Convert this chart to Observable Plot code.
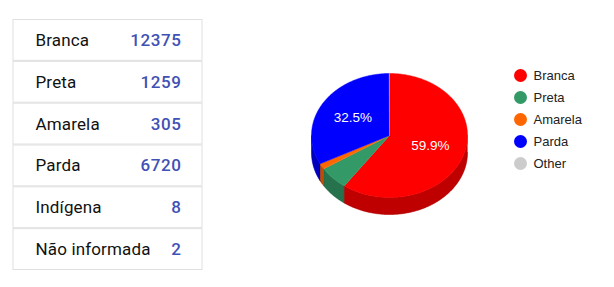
<!DOCTYPE html>
<html><head><meta charset="utf-8">
<script src="https://cdn.jsdelivr.net/npm/d3@7"></script>
<script src="https://cdn.jsdelivr.net/npm/@observablehq/plot@0.6"></script>
<style>
body{margin:0;background:#fff;}
#wrap{position:relative;width:614px;height:287px;overflow:hidden;}
#wrap svg{position:absolute;top:0;}
.vals text{letter-spacing:0.6px;}
.labs text{letter-spacing:0.15px;}
</style></head><body><div id="wrap"></div>
<script>
const categories = ["Branca","Preta","Amarela","Parda","Indígena","Não informada"];
const counts = [12375,1259,305,6720,8,2];
const pieLabels = ["Branca","Preta","Amarela","Parda","Other"];
const pieValues = [12375,1259,305,6720,10];
const pieColors = ["#ff0000","#339966","#ff6600","#0000ff","#cccccc"];

const wrap = document.getElementById("wrap");

// ---- Table ----
const rows = categories.map((c,i)=>({cat:c, n:counts[i]}));
const table = Plot.plot({
  width:214, height:287, margin:0,
  style:{fontFamily:"Roboto, sans-serif", background:"transparent"},
  x:{domain:[0,1], range:[13,202], axis:null},
  y:{type:"band", domain:categories, range:[19,270], padding:0, round:false, axis:null},
  marks:[
    Plot.barX(rows,{x1:0,x2:1,y:"cat",fill:"white",stroke:"#e0e0e0",strokeWidth:1,insetTop:0.5,insetBottom:0.5}),
    Plot.text(rows,{x:0,y:"cat",text:"cat",textAnchor:"start",dx:22,fontSize:17,fill:"#111111",className:"labs"}),
    Plot.text(rows,{x:1,y:"cat",text:d=>String(d.n),textAnchor:"end",dx:-21,fontSize:17,fontWeight:500,fill:"#3f51b5",className:"vals"})
  ]
});
table.style.left="0px";
wrap.appendChild(table);

// ---- 3D pie ----
const total = d3.sum(pieValues);
const T = 17/62;
const topPts = [], sidePts = [], labelData = [];
let acc = 0;
pieValues.forEach((v,i)=>{
  const a0 = acc/total*2*Math.PI;
  acc += v;
  const a1 = acc/total*2*Math.PI;
  const key = pieLabels[i];
  const n = Math.max(2, Math.ceil((a1-a0)/0.01));
  topPts.push({id:key, key, x:0, y:0});
  for(let k=0;k<=n;k++){
    const a = a0+(a1-a0)*k/n;
    topPts.push({id:key, key, x:Math.sin(a), y:Math.cos(a)});
  }
  const s0 = Math.max(a0, Math.PI/2), s1 = Math.min(a1, 3*Math.PI/2);
  if (s1 > s0){
    const m = Math.max(2, Math.ceil((s1-s0)/0.01));
    const arc = [];
    for(let k=0;k<=m;k++){ const a = s0+(s1-s0)*k/m; arc.push([Math.sin(a),Math.cos(a)]); }
    arc.forEach(([x,y])=>sidePts.push({id:key,key,x,y}));
    arc.slice().reverse().forEach(([x,y])=>sidePts.push({id:key,key,x,y:y-T}));
  }
  const pct = v/total;
  if (pct > 0.1){
    const am = (a0+a1)/2;
    labelData.push({x:0.55*Math.sin(am), y:0.55*Math.cos(am), text:(pct*100).toFixed(1)+"%"});
  }
});

const pie = Plot.plot({
  width:286, height:287, margin:0,
  style:{fontFamily:"Arial, 'Liberation Sans', sans-serif", background:"transparent"},
  x:{domain:[-1,1], range:[97,253], axis:null},
  y:{domain:[-1,1], range:[197,73], axis:null},
  color:{domain:pieLabels, range:pieColors},
  marks:[
    Plot.line(sidePts,{x:"x",y:"y",z:"id",fill:"key",stroke:"key",strokeWidth:0.5,curve:"linear"}),
    Plot.line(sidePts,{x:"x",y:"y",z:"id",fill:"black",fillOpacity:0.25,stroke:"black",strokeOpacity:0.25,strokeWidth:0.5,curve:"linear"}),
    Plot.line(topPts,{x:"x",y:"y",z:"id",fill:"key",stroke:"key",strokeWidth:0.5,curve:"linear"}),
    Plot.text(labelData,{x:"x",y:"y",text:"text",fill:"white",fontSize:13.5})
  ]
});
pie.style.left="214px";
wrap.appendChild(pie);

// ---- Legend ----
const legend = Plot.plot({
  width:114, height:287, margin:0,
  style:{fontFamily:"Arial, 'Liberation Sans', sans-serif", background:"transparent"},
  x:{domain:[0,1], range:[20,110], axis:null},
  y:{type:"point", domain:pieLabels, range:[73,164], padding:0, axis:null},
  color:{domain:pieLabels, range:pieColors},
  marks:[
    Plot.dot(pieLabels,{x:0,y:d=>d,r:6.5,fill:d=>d}),
    Plot.text(pieLabels,{x:0,y:d=>d,text:d=>d,dx:13,textAnchor:"start",fontSize:13,fill:"#222222"})
  ]
});
legend.style.left="500px";
wrap.appendChild(legend);
</script>
</body></html>
